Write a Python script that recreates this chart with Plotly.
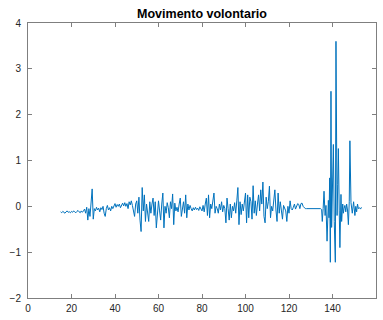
import numpy as np
import plotly.graph_objects as go

# Signal sampled every 0.5 s from t = 15 s to t = 135 s
t_start = 15.0
t_step = 0.5
calm = [
    # 15 - 24.5
    -0.12, -0.14, -0.11, -0.13, -0.15, -0.12, -0.10, -0.13, -0.12, -0.14,
    -0.11, -0.13, -0.10, -0.12, -0.14, -0.11, -0.09, -0.12, -0.14, -0.10,
    # 25 - 49.5
    -0.13, -0.10, -0.06, -0.15, -0.02, -0.30, -0.05, -0.22, 0.05, 0.38,
    -0.28, -0.05, -0.10, -0.02, -0.08, -0.04, -0.12, -0.03, -0.07, 0.00,
    -0.15, -0.22, -0.05, 0.02, -0.08, -0.03, -0.10, 0.00, -0.05, 0.03,
    0.06, -0.02, 0.04, 0.00, 0.05, -0.03, 0.03, 0.07, 0.01, 0.08,
    0.00, 0.06, -0.05, 0.10, 0.03, 0.12, 0.02, -0.10, -0.22, 0.05,
    # 50 - 74.5
    0.12, -0.15, 0.20, -0.30, -0.55, 0.41, -0.10, 0.25, -0.33, 0.05,
    -0.20, -0.33, 0.10, -0.15, 0.05, 0.18, -0.20, 0.10, -0.47, -0.05,
    0.12, -0.10, -0.30, 0.05, 0.29, -0.47, 0.00, -0.15, 0.08, -0.03,
    -0.25, 0.10, -0.05, 0.27, -0.40, 0.07, -0.10, -0.02, -0.12, 0.05,
    0.18, -0.22, -0.05, 0.10, -0.15, 0.25, -0.25, 0.05, -0.08, 0.02,
    # 75 - 99.5
    -0.05, -0.10, -0.03, -0.08, -0.02, -0.07, -0.04, -0.09, -0.01, -0.06,
    -0.10, 0.02, -0.12, 0.05, 0.18, -0.20, 0.25, -0.25, 0.05, -0.05,
    0.10, 0.29, -0.15, 0.00, -0.05, -0.15, 0.05, -0.08, 0.10, -0.12,
    0.02, -0.05, -0.36, 0.18, -0.05, -0.30, 0.05, -0.25, 0.00, -0.10,
    0.08, -0.15, 0.12, 0.41, -0.40, 0.10, -0.18, 0.05, -0.10, 0.15,
    # 100 - 127.5
    0.29, -0.36, 0.25, -0.25, 0.20, 0.10, -0.28, 0.45, -0.15, 0.12,
    -0.20, 0.05, 0.25, -0.10, 0.36, 0.05, 0.53, -0.22, -0.36, 0.20,
    -0.05, 0.10, 0.44, -0.25, 0.00, -0.10, 0.15, 0.36, -0.08, -0.33,
    0.29, -0.15, 0.10, -0.05, -0.28, 0.02, -0.03, -0.10, -0.33, 0.00,
    -0.15, 0.12, -0.05, -0.08, -0.02, 0.05, -0.06, 0.03, 0.06, 0.04,
    -0.05, 0.06, 0.07, 0.00, -0.04, -0.05,
    # 128 - 135
    -0.05, -0.05, -0.06, -0.05, -0.05, -0.06, -0.05, -0.05, -0.06, -0.05,
    -0.05, -0.05, -0.06, -0.05, -0.07,
]

# Burst of large oscillations after t = 135 s
t_burst = [
    135.3, 135.7, 136.1, 136.6, 137.0, 137.5, 138.1, 138.4, 138.7, 139.0,
    139.3, 139.6, 140.1, 140.4, 140.8, 141.3, 141.6, 142.1, 142.4, 142.7,
    143.1, 143.4, 143.9, 144.2, 144.7, 145.0, 145.3, 145.7, 146.1, 146.5,
    146.9, 147.3, 147.7, 148.0, 148.5, 149.1, 149.7, 150.3, 150.7, 151.1,
    151.5, 151.9, 152.4, 152.9, 153.3,
]
burst = [
    -0.33, -0.05, 0.33, -0.20, 0.02, -0.76, 0.13, -0.25, 0.62, -1.22,
    2.51, -0.46, 0.69, 1.35, -0.33, -1.22, 3.60, -0.20, 0.48, 1.26,
    -0.10, -0.90, 0.26, -0.33, 0.05, -0.15, -0.05, 0.02, -0.12, 0.05,
    -0.08, -0.40, 0.10, 1.43, 0.08, -0.15, 0.10, -0.20, 0.00, -0.12,
    0.05, -0.05, -0.03, -0.06, -0.02,
]

x_ticks = [0, 20, 40, 60, 80, 100, 120, 140, 160]
y_ticks = [-2, -1, 0, 1, 2, 3, 4]

t_calm = t_start + t_step * np.arange(len(calm))
t = np.concatenate([t_calm, np.array(t_burst)])
y = np.concatenate([np.array(calm), np.array(burst)])

axis_color = "#262626"
fig = go.Figure(
    go.Scatter(
        x=t, y=y, mode="lines",
        line=dict(color="#0072BD", width=1),
        hoverinfo="skip",
    )
)

common_axis = dict(
    showline=True, linecolor="#7f7f7f", linewidth=1, mirror="ticks",
    ticks="inside", ticklen=4, tickcolor="#7f7f7f", tickwidth=1,
    showgrid=False, zeroline=False,
    tickfont=dict(family="Liberation Sans, Arial, sans-serif", size=10, color=axis_color),
)

fig.update_xaxes(range=[0, 160], tickvals=x_ticks, ticklabelstandoff=1, **common_axis)
fig.update_yaxes(range=[-2, 4], tickvals=y_ticks, ticklabelstandoff=4, **common_axis)

fig.update_layout(
    width=383, height=320,
    margin=dict(l=28, r=7, t=23, b=22),
    paper_bgcolor="white", plot_bgcolor="white",
    showlegend=False,
    title=dict(
        text="<b>Movimento volontario</b>",
        x=0.5, xanchor="center", xref="paper",
        y=1, yref="paper", yanchor="bottom", pad=dict(b=5),
        font=dict(family="Liberation Sans, Arial, sans-serif", size=12.5, color="#000000"),
    ),
)

fig.write_html("out.html")
